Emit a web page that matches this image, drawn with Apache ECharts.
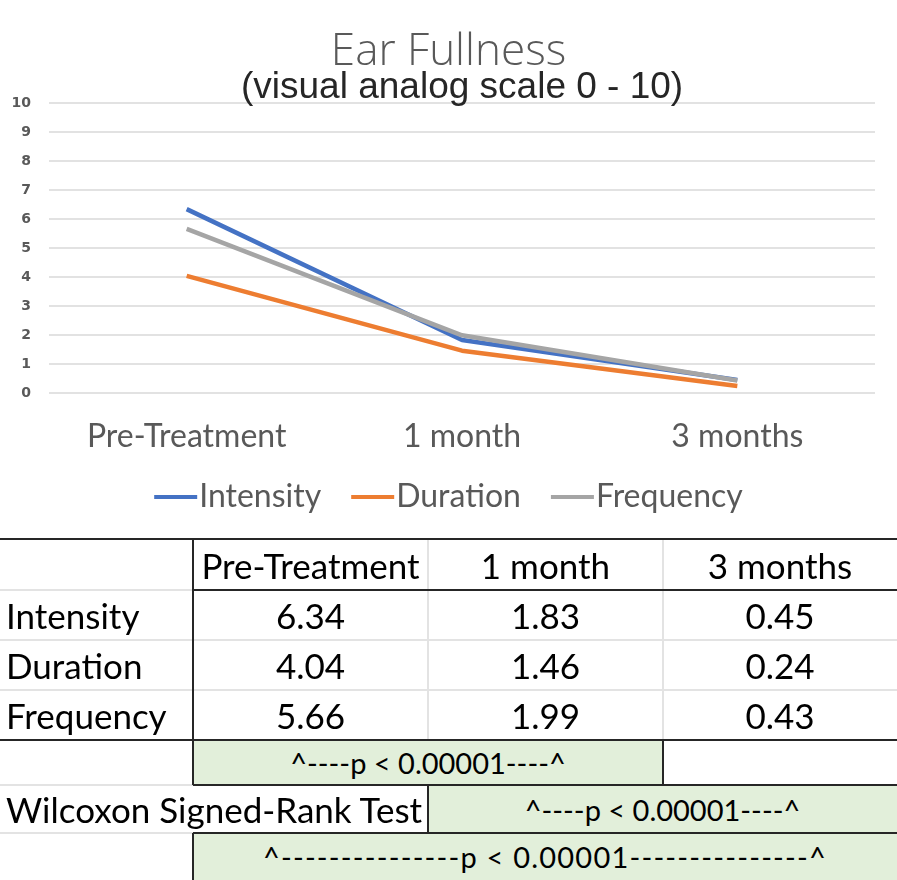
<!DOCTYPE html>
<html>
<head>
<meta charset="utf-8">
<script src="https://cdn.jsdelivr.net/npm/echarts@6/dist/echarts.min.js"></script>
<style>
html,body{margin:0;padding:0;background:#fff;}
#chart{position:absolute;left:0;top:0;width:897px;height:540px;}
#table{position:absolute;left:0;top:0;width:897px;height:880px;pointer-events:none;}
.cell{position:absolute;box-sizing:border-box;display:flex;align-items:center;font-family:Lato,"Open Sans",sans-serif;color:#000;white-space:nowrap;}
.ln{position:absolute;}
</style>
</head>
<body>
<div id="chart"></div>
<div id="table"></div>
<script>
// ---- data ----
const categories = ['Pre-Treatment', '1 month', '3 months'];
const intensity = [6.34, 1.83, 0.45];
const duration = [4.04, 1.46, 0.24];
const frequency = [5.66, 1.99, 0.43];
const seriesNames = ['Intensity', 'Duration', 'Frequency'];
const pLabel = 'p < 0.00001';
const testName = 'Wilcoxon Signed-Rank Test';
const yTicks = [0, 1, 2, 3, 4, 5, 6, 7, 8, 9, 10];

const colors = ['#4472C4', '#ED7D31', '#A5A5A5'];
const values = [intensity, duration, frequency];

const chart = echarts.init(document.getElementById('chart'));
chart.setOption({
  animation: false,
  title: [
    {text: 'Ear Fullness', left: 'center', top: 25,
     textStyle: {fontFamily: 'Open Sans', fontWeight: 300, fontSize: 44, color: '#595959'}},
    {text: '(visual analog scale 0 - 10)', left: 236, top: 64,
     textStyle: {fontFamily: 'Liberation Sans', fontWeight: 'normal', fontSize: 37, color: '#262626'}}
  ],
  grid: {left: 49, right: 22, top: 103, height: 290},
  xAxis: {
    type: 'category', data: categories, boundaryGap: true,
    axisLine: {show: false}, axisTick: {show: false},
    axisLabel: {fontFamily: 'Lato', fontSize: 32, color: '#595959', margin: 28}
  },
  yAxis: {
    type: 'value', min: yTicks[0], max: yTicks[yTicks.length - 1], interval: 1,
    axisLine: {show: false}, axisTick: {show: false},
    axisLabel: {fontFamily: 'DejaVu Sans', fontWeight: 'bold', fontSize: 14, color: '#595959', margin: 18},
    splitLine: {lineStyle: {color: '#D9D9D9', width: 1.5}}
  },
  legend: {
    bottom: 22, left: 'center', itemWidth: 43, itemHeight: 4, itemGap: 30,
    icon: 'rect',
    textStyle: {fontFamily: 'Lato', fontSize: 32, color: '#595959', padding: [0, 0, 0, -3]},
    data: seriesNames
  },
  series: seriesNames.map((n, i) => ({
    name: n, type: 'line', data: values[i], showSymbol: false, symbol: 'none',
    lineStyle: {width: 4.5, color: colors[i]}, itemStyle: {color: colors[i]}, z: 2 + i
  }))
});

// ---- table ----
const T = document.getElementById('table');
const colX = [0, 193, 428, 663, 897];
const rowY = [540, 590, 640, 690, 740, 785, 833, 880];
const green = '#E2EFDA';
const dark = '#262626';
const light = '#E3E3E3';
const fs = 35;
const fsP = 29;

function cell(c0, c1, r, text, align, bg, size, spacing) {
  const d = document.createElement('div');
  d.className = 'cell';
  d.style.left = colX[c0] + 'px';
  d.style.top = rowY[r] + 'px';
  d.style.width = (colX[c1] - colX[c0]) + 'px';
  d.style.height = (rowY[r + 1] - rowY[r]) + 'px';
  d.style.justifyContent = align === 'left' ? 'flex-start' : 'center';
  d.style.paddingLeft = align === 'left' ? '6px' : '0';
  d.style.fontSize = (size || fs) + 'px';
  if (spacing) d.style.letterSpacing = spacing + 'px';
  if (bg) d.style.background = bg;
  d.textContent = text;
  T.appendChild(d);
}
function hline(x0, x1, y, color, w) {
  const d = document.createElement('div');
  d.className = 'ln';
  d.style.left = x0 + 'px'; d.style.width = (x1 - x0) + 'px';
  d.style.top = (y - w / 2) + 'px'; d.style.height = w + 'px';
  d.style.background = color; T.appendChild(d);
}
function vline(x, y0, y1, color, w) {
  const d = document.createElement('div');
  d.className = 'ln';
  d.style.top = y0 + 'px'; d.style.height = (y1 - y0) + 'px';
  d.style.left = (x - w / 2) + 'px'; d.style.width = w + 'px';
  d.style.background = color; T.appendChild(d);
}

// header
categories.forEach((c, i) => cell(i + 1, i + 2, 0, c, 'center'));
// data rows
seriesNames.forEach((n, r) => {
  cell(0, 1, r + 1, n, 'left');
  values[r].forEach((v, i) => cell(i + 1, i + 2, r + 1, v.toFixed(2), 'center'));
});
// p rows
cell(1, 3, 4, '^----' + pLabel + '----^', 'center', green, fsP);
cell(0, 2, 5, testName, 'left');
cell(2, 4, 5, '^----' + pLabel + '----^', 'center', green, fsP);
cell(1, 4, 6, '^---------------' + pLabel + '---------------^', 'center', green, fsP, 1.2);

// light gridlines
[590, 640, 690, 785, 833].forEach(y => hline(0, 193, y, light, 1.5));
[640, 690].forEach(y => hline(193, 897, y, light, 1.5));
[428, 663].forEach(x => vline(x, 540, 740, light, 1.5));
// dark borders
hline(0, 897, 539, dark, 2.5);
hline(193, 897, 590, dark, 1.5);
hline(0, 897, 740, dark, 1.5);
hline(193, 897, 785, dark, 1.5);
hline(193, 897, 833, dark, 1.5);
vline(193, 540, 785, dark, 1.5);
vline(663, 740, 785, dark, 1.5);
vline(428, 785, 833, dark, 1.5);
vline(193, 833, 880, dark, 1.5);
</script>
</body>
</html>
